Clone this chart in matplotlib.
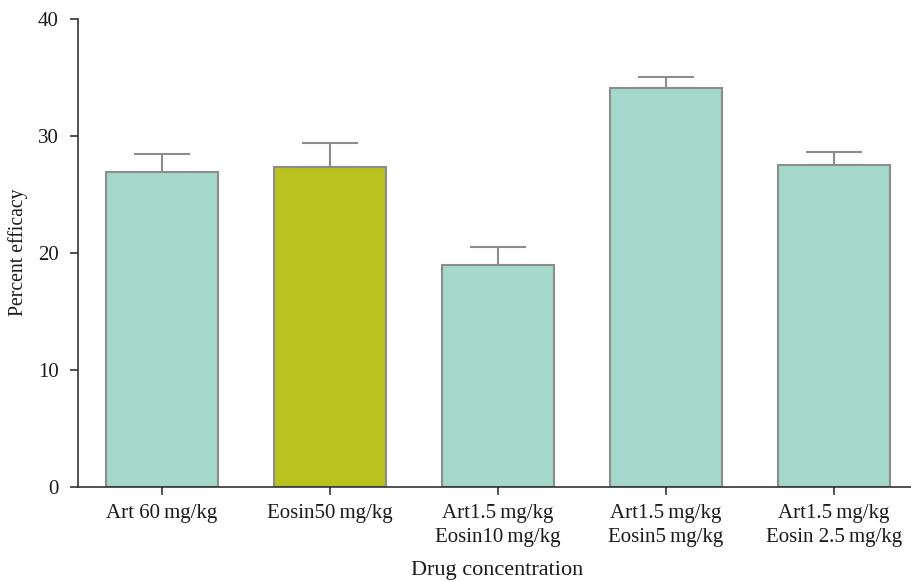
import matplotlib
matplotlib.use("Agg")
import matplotlib.pyplot as plt
import numpy as np

categories = ["Art 60\u2009mg/kg", "Eosin50\u2009mg/kg", "Art1.5\u2009mg/kg\nEosin10\u2009mg/kg",
              "Art1.5\u2009mg/kg\nEosin5\u2009mg/kg", "Art1.5\u2009mg/kg\nEosin 2.5\u2009mg/kg"]
values = [26.9, 27.35, 18.95, 34.1, 27.5]
errors = [1.6, 2.05, 1.55, 0.9, 1.1]
colors = ["#A3D8CA", "#B9C21F", "#A3D8CA", "#A3D8CA", "#A3D8CA"]

plt.rcParams['font.family'] = ['Liberation Serif', 'DejaVu Serif']

fig = plt.figure(figsize=(9.11, 5.82), dpi=100)
ax = fig.add_axes([78/911, 95/582, (911-78)/911, (487-19)/582])

x = np.arange(len(categories))
ax.errorbar(x, values, yerr=[np.zeros(len(values)), errors], fmt='none',
            ecolor="#8C8C8C", elinewidth=1.5, capsize=20, capthick=1.5, zorder=1)
ax.bar(x, values, width=0.667, color=colors, edgecolor="#8C8C8C", linewidth=1.5, zorder=2)

ax.set_xlim(-0.5, 4.458)
ax.set_ylim(0, 40)
ax.set_yticks([0, 10, 20, 30, 40])
ax.set_xticks(x)
ax.set_xticklabels(categories, fontsize=15, linespacing=1.35, color="#1a1a1a")
ax.tick_params(axis='y', labelsize=15, length=6, width=1.2, color="#333333", labelcolor="#1a1a1a", pad=8)
ax.tick_params(axis='x', length=6, width=1.2, color="#333333", pad=6)
for s in ['top', 'right']:
    ax.spines[s].set_visible(False)
for s in ['left', 'bottom']:
    ax.spines[s].set_linewidth(1.2)
    ax.spines[s].set_color("#333333")

fig.text(18/911, 1 - 252/582, "Percent efficacy", rotation=90, ha='center', va='center',
         fontsize=14.2, color="#1a1a1a")
fig.text(497/911, 1 - 570/582, "Drug concentration", ha='center', va='center',
         fontsize=16, color="#1a1a1a")

fig.savefig("out.png", dpi=100)
